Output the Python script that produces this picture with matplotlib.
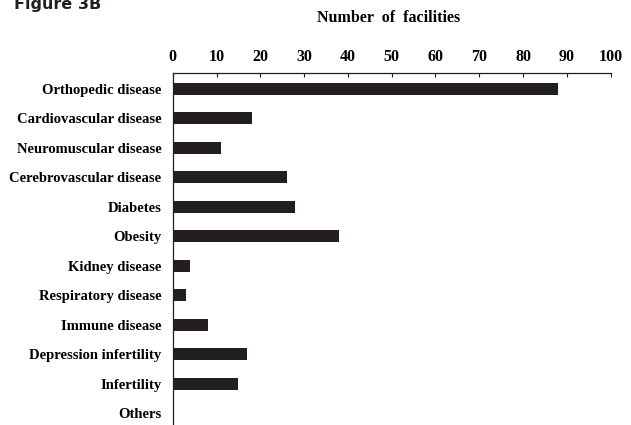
import numpy as np
import matplotlib.pyplot as plt

# facilities per disease category
categories = ['Orthopedic disease', 'Cardiovascular disease', 'Neuromuscular disease',
              'Cerebrovascular disease', 'Diabetes', 'Obesity', 'Kidney disease',
              'Respiratory disease', 'Immune disease', 'Depression infertility',
              'Infertility', 'Others']
counts = [88, 18, 11, 26, 28, 38, 4, 3, 8, 17, 15, 0]
xticks = [0, 10, 20, 30, 40, 50, 60, 70, 80, 90, 100]

serif = {'family': 'Liberation Serif', 'weight': 'bold'}

fig = plt.figure(figsize=(6.31, 4.25), dpi=100)
ax = fig.add_axes([0.2737, 0.0, 0.6941, 0.8275])

y = np.arange(len(categories))
ax.barh(y, counts, height=0.4, color='#231f20')

ax.set_xlim(0, 100)
ax.set_ylim(11.4, -0.52)
ax.xaxis.tick_top()
ax.set_xticks(xticks)
ax.set_xticklabels([str(t) for t in xticks], fontdict=serif, fontsize=11.5)
ax.tick_params(axis='x', direction='in', length=3, width=0.8, pad=6, color='#231f20')
ax.set_yticks(y)
ax.set_yticklabels(categories, fontdict=serif, fontsize=10.5)
ax.tick_params(axis='y', length=0, pad=8)

for side in ['right', 'bottom']:
    ax.spines[side].set_visible(False)
for side in ['top', 'left']:
    ax.spines[side].set_linewidth(0.9)
    ax.spines[side].set_color('#231f20')

fig.text(0.616, 0.958, 'Number  of  facilities', ha='center', va='center',
         fontdict=serif, fontsize=11.5)
fig.text(0.022, 0.99, 'Figure 3B', ha='left', va='center',
         family='DejaVu Sans', weight='bold', fontsize=11.5, color='#231f20')

fig.savefig('out.png', dpi=100)
